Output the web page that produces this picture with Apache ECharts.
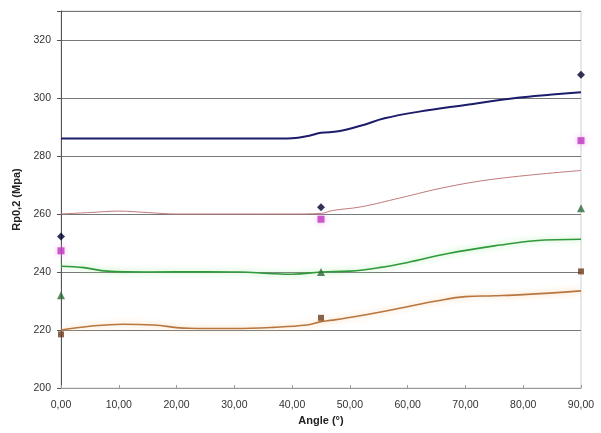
<!DOCTYPE html>
<html>
<head>
<meta charset="utf-8">
<script src="https://cdn.jsdelivr.net/npm/echarts@6/dist/echarts.min.js"></script>
<style>
  html, body { margin: 0; padding: 0; background: #fff; }
  #chart { width: 601px; height: 433px; }
</style>
</head>
<body>
<div id="chart"></div>
<script>
// Axis ticks
const xTicks = [0, 10, 20, 30, 40, 50, 60, 70, 80, 90];
const yTicks = [200, 220, 240, 260, 280, 300, 320];

// Fitted curves: [angle, Rp0.2]
const curveNavy = [[0,286],[10,286],[20,286],[30,286],[36,286],[40,286.1],[43,287],[45,288],[48,288.5],[52,290.5],[56,293],[62,295.3],[70,297.6],[79,300.1],[85,301.2],[90,302]];
const curvePink = [[0,260],[5,260.5],[10,261],[15,260.5],[20,260],[30,260],[40,260],[45,260.2],[47,261.2],[52,262.5],[58.6,265.5],[67,269.4],[76,272.3],[90,275]];
const curveGreen = [[0,242],[4,241.5],[8,240.3],[15,240],[25,240.1],[31,240],[36,239.5],[40,239.2],[45,240],[50,240.3],[55,241.5],[60,243.3],[67,246.4],[76,249.3],[82,250.8],[90,251.3]];
const curveOrange = [[0,220],[5,221.3],[10.7,222],[16,221.7],[22,220.6],[30,220.5],[36.7,220.9],[42.5,221.7],[45,222.9],[47,223.4],[52,225],[58.6,227.5],[65,230],[70,231.5],[75,231.8],[80,232.2],[90,233.5]];

// Measured points
const ptsDiamond = [[0,252.2],[45,262.3],[90,308]];
const ptsSquare = [[0,247.3],[45,258.2],[90,285.3]];
const ptsTriangle = [[0,232],[45,240],[90,262]];
const ptsBrown = [[0,218.5],[45,224.2],[90,240.2]];

const fmt = v => v.toFixed(2).replace('.', ',');

const lineSeries = (data, color, width, glow) => ({
  type: 'line',
  data: data,
  smooth: 0.4,
  showSymbol: false,
  z: 3,
  lineStyle: Object.assign({ color: color, width: width },
    glow ? { shadowColor: glow, shadowBlur: 6 } : {})
});

const markSeries = (data, symbol, color, size, glow) => ({
  type: 'scatter',
  data: data,
  symbol: symbol,
  symbolSize: size,
  clip: false,
  z: 5,
  itemStyle: Object.assign({ color: color }, glow ? { shadowColor: glow, shadowBlur: 6 } : {})
});

const labelFont = { fontFamily: 'Liberation Sans', fontSize: 10.5, color: '#333' };
const nameFont = { fontFamily: 'Liberation Sans', fontSize: 11, fontWeight: 'bold', color: '#222' };

const chart = echarts.init(document.getElementById('chart'), null, { renderer: 'canvas' });
chart.setOption({
  animation: false,
  backgroundColor: '#fff',
  grid: { left: 61, right: 20, top: 11, bottom: 45, show: true, borderColor: '#d0d0d0', borderWidth: 1 },
  xAxis: {
    type: 'value', min: 0, max: 90, interval: 10,
    name: 'Angle (°)', nameLocation: 'middle', nameGap: 23,
    nameTextStyle: nameFont,
    axisLine: { show: true, onZero: false, lineStyle: { color: '#999', width: 1 } },
    axisTick: { show: true, inside: true, length: 3, lineStyle: { color: '#999' } },
    axisLabel: Object.assign({ margin: 12, formatter: v => xTicks.includes(v) ? fmt(v) : '' }, labelFont),
    splitLine: { show: false }
  },
  yAxis: {
    type: 'value', min: 200, max: 330, interval: 20,
    name: 'Rp0,2 (Mpa)', nameLocation: 'middle', nameGap: 37, nameRotate: 90,
    nameTextStyle: nameFont,
    axisLine: { show: true, lineStyle: { color: '#555', width: 1 } },
    axisTick: { show: true, length: 4, lineStyle: { color: '#555' } },
    axisLabel: Object.assign({ margin: 10, formatter: v => yTicks.includes(v) ? String(v) : '' }, labelFont),
    splitLine: { show: true, lineStyle: { color: '#777', width: 1 } }
  },
  series: [
    lineSeries(curveNavy, '#1c1c6a', 2),
    lineSeries(curvePink, '#c07a7a', 1),
    lineSeries(curveGreen, '#2f9a3a', 1.6, '#9be89b'),
    lineSeries(curveOrange, '#b8763e', 1.6, '#f5c896'),
    markSeries(ptsDiamond, 'diamond', '#000030', 8),
    markSeries(ptsSquare, 'rect', '#c033c0', 7, '#f0a0f0'),
    markSeries(ptsTriangle, 'triangle', '#2d6a38', 8),
    markSeries(ptsBrown, 'rect', '#6e3c1e', 6)
  ]
});
</script>
</body>
</html>
